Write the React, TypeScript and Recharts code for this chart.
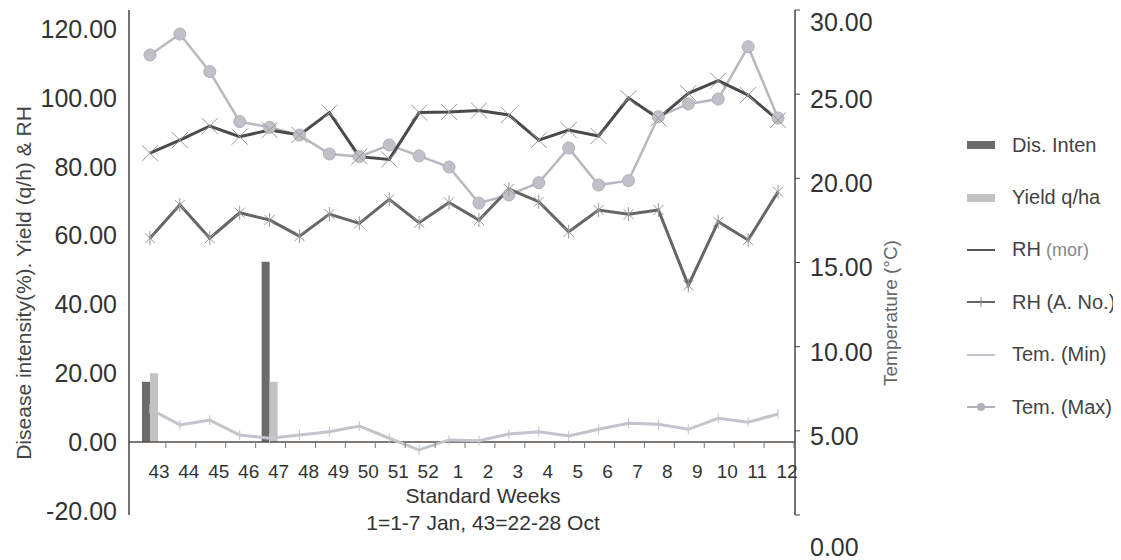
import React from 'react';
import {
  ComposedChart,
  Bar,
  Line,
  XAxis,
  YAxis,
  ReferenceLine,
} from 'recharts';

// ---- data ----
const weeks = ['43', '44', '45', '46', '47', '48', '49', '50', '51', '52', '1', '2', '3', '4', '5', '6', '7', '8', '9', '10', '11', '12'];
const disInten = [17.5, null, null, null, 52.4, null, null, null, null, null, null, null, null, null, null, null, null, null, null, null, null, null];
const yieldQha = [20.0, null, null, null, 17.5, null, null, null, null, null, null, null, null, null, null, null, null, null, null, null, null, null];
const rhMor = [83.9, 87.7, 91.8, 88.7, 90.6, 89.2, 95.7, 82.9, 82.1, 95.7, 95.9, 96.3, 95.0, 87.7, 90.6, 88.9, 99.9, 94.0, 101.3, 105.0, 100.8, 93.5];
const rhANo = [59.2, 68.9, 59.2, 66.6, 64.5, 59.8, 66.2, 63.5, 70.5, 63.7, 69.6, 64.5, 73.5, 69.8, 61.1, 67.4, 66.2, 67.4, 45.5, 64.0, 58.7, 72.7];
const temMin = [6.3, 5.35, 5.64, 4.75, 4.56, 4.75, 4.95, 5.29, 4.56, 3.86, 4.46, 4.41, 4.81, 4.95, 4.69, 5.09, 5.45, 5.39, 5.09, 5.74, 5.51, 6.0];
const temMax = [27.33, 28.57, 26.34, 23.37, 23.03, 22.57, 21.45, 21.29, 21.98, 21.33, 20.67, 18.53, 19.01, 19.74, 21.8, 19.6, 19.86, 23.66, 24.42, 24.71, 27.82, 23.58];

const leftTicks = [-20, 0, 20, 40, 60, 80, 100, 120];
const rightTicks = [0, 5, 10, 15, 20, 25, 30];

const data = weeks.map((w, i) => ({
  week: w,
  disInten: disInten[i],
  yieldQha: yieldQha[i],
  rhMor: rhMor[i],
  rhANo: rhANo[i],
  temMin: temMin[i],
  temMax: temMax[i],
}));

const FONT = '"Liberation Sans", Arial, sans-serif';

const XTick = (props: any) => {
  const { x, y, payload } = props;
  const half = payload && payload.offset ? payload.offset : 15;
  return (
    <g>
      <line x1={x + half + 1} x2={x + half + 1} y1={y - 73} y2={y - 67} stroke="#777" strokeWidth={1} />
      <text x={x + 9} y={y - 37} textAnchor="middle" fontSize={19} fill="#333" fontFamily={FONT}>
        {payload.value}
      </text>
    </g>
  );
};

const RightTick = (props: any) => {
  const { x, y, payload } = props;
  const extra = payload.value === 0 ? 32 : 5;
  return (
    <text x={x} y={y + extra} dy="0.355em" textAnchor="start" fontSize={25} fill="#333" fontFamily={FONT}>
      {Number(payload.value).toFixed(2)}
    </text>
  );
};

const XLabel = (props: any) => {
  const vb = props.viewBox || { x: 121, y: 507, width: 666, height: 45 };
  const cx = vb.x + vb.width / 2 + 21;
  return (
    <g>
      <text x={cx} y={vb.y - 12} textAnchor="middle" fontSize={21} fill="#333" fontFamily={FONT}>
        Standard Weeks
      </text>
      <text x={cx} y={vb.y + 15} textAnchor="middle" fontSize={21} fill="#333" fontFamily={FONT}>
        1=1-7 Jan, 43=22-28 Oct
      </text>
    </g>
  );
};

const LeftTitle = (props: any) => {
  const vb = props.viewBox || { x: 0, y: 2, width: 121, height: 505 };
  const cx = vb.x + 15;
  const cy = vb.y + 273;
  return (
    <text
      x={cx}
      y={cy}
      transform={`rotate(-90 ${cx} ${cy})`}
      textAnchor="middle"
      dominantBaseline="central"
      fontSize={21}
      fill="#444"
      fontFamily={FONT}
    >
      Disease intensity(%). Yield (q/h) &amp; RH
    </text>
  );
};

const RightTitle = (props: any) => {
  const vb = props.viewBox || { x: 787, y: 2, width: 100, height: 505 };
  const cx = vb.x + 95;
  const cy = vb.y + 303;
  return (
    <text
      x={cx}
      y={cy}
      transform={`rotate(-90 ${cx} ${cy})`}
      textAnchor="middle"
      dominantBaseline="central"
      fontSize={19}
      fill="#666"
      fontFamily={FONT}
    >
      Temperature (°C)
    </text>
  );
};

const XDot = (props: any) => {
  const { cx, cy, index } = props;
  if (cx == null || cy == null) return <g key={`x-${index}`} />;
  const s = 8;
  return (
    <path
      key={`x-${index}`}
      d={`M${cx - s},${cy - s}L${cx + s},${cy + s}M${cx - s},${cy + s}L${cx + s},${cy - s}`}
      stroke="#999"
      strokeWidth={1}
      fill="none"
    />
  );
};

const StarDot = (props: any) => {
  const { cx, cy, index } = props;
  if (cx == null || cy == null) return <g key={`s-${index}`} />;
  const s = 7;
  const d = 5;
  return (
    <path
      key={`s-${index}`}
      d={`M${cx},${cy - s}L${cx},${cy + s}M${cx - d},${cy - d}L${cx + d},${cy + d}M${cx - d},${cy + d}L${cx + d},${cy - d}`}
      stroke="#999"
      strokeWidth={1}
      fill="none"
    />
  );
};

const TickDot = (props: any) => {
  const { cx, cy, index } = props;
  if (cx == null || cy == null) return <g key={`t-${index}`} />;
  return <path key={`t-${index}`} d={`M${cx},${cy - 5}L${cx},${cy + 5}`} stroke="#c4c4cc" strokeWidth={1} />;
};

const legendItems = [
  { name: 'Dis. Inten', kind: 'bar', color: '#6b6b6b' },
  { name: 'Yield q/ha', kind: 'bar', color: '#c2c2c2' },
  { name: 'RH', sub: ' (mor)', kind: 'line', color: '#555555' },
  { name: 'RH (A. No.)', kind: 'plus', color: '#666666' },
  { name: 'Tem. (Min)', kind: 'line', color: '#c4c4cc' },
  { name: 'Tem. (Max)', kind: 'circle', color: '#b0b0b8' },
];

const Legendary = () => (
  <div style={{ position: 'absolute', left: 959, top: 111, fontFamily: FONT }}>
    {legendItems.map((it, i) => (
      <div key={i} style={{ display: 'flex', alignItems: 'center', height: 52.4 }}>
        <svg width={28} height={14} style={{ marginRight: 17 }}>
          {it.kind === 'bar' && <rect x={0} y={3} width={28} height={8} fill={it.color} />}
          {it.kind !== 'bar' && <line x1={0} x2={28} y1={7} y2={7} stroke={it.color} strokeWidth={2} />}
          {it.kind === 'plus' && <path d="M14,2L14,12" stroke="#888" strokeWidth={1} />}
          {it.kind === 'circle' && <circle cx={14} cy={7} r={4} fill={it.color} />}
        </svg>
        <span style={{ fontSize: 20, color: '#444', whiteSpace: 'nowrap' }}>
          {it.name}
          {it.sub && <span style={{ fontSize: 18, color: '#888' }}>{it.sub}</span>}
        </span>
      </div>
    ))}
  </div>
);

export default function App() {
  return (
    <div style={{ position: 'relative', width: 1105, height: 552, fontFamily: FONT }}>
      <ComposedChart
        width={1105}
        height={552}
        data={data}
        margin={{ top: 2, right: 218, bottom: 0, left: 0 }}
        barGap={0}
      >
        <XAxis
          dataKey="week"
          height={45}
          padding={{ left: 6, right: 2 }}
          axisLine={false}
          tickLine={false}
          tickSize={0}
          tickMargin={0}
          interval={0}
          tick={<XTick />}
          label={(p: any) => <XLabel {...p} />}
        />
        <YAxis
          yAxisId="left"
          width={121}
          domain={[-21.2, 125.5]}
          ticks={leftTicks}
          allowDataOverflow
          axisLine={{ stroke: '#444', strokeWidth: 1.5 }}
          tickLine={false}
          tickSize={6}
          tickMargin={6}
          tick={{ fontSize: 25, fill: '#333', fontFamily: FONT }}
          tickFormatter={(v: number) => v.toFixed(2)}
          label={(p: any) => <LeftTitle {...p} />}
        />
        <YAxis
          yAxisId="right"
          orientation="right"
          width={100}
          domain={[0, 30]}
          ticks={rightTicks}
          allowDataOverflow
          axisLine={{ stroke: '#444', strokeWidth: 1.5 }}
          tickLine={{ stroke: '#444' }}
          tickSize={5}
          tickMargin={10}
          tick={<RightTick />}
          label={(p: any) => <RightTitle {...p} />}
        />
        <ReferenceLine yAxisId="left" y={0} stroke="#554e48" strokeWidth={1.5} />
        <Bar yAxisId="left" dataKey="disInten" name="Dis. Inten" fill="#6b6b6b" barSize={8} isAnimationActive={false} />
        <Bar yAxisId="left" dataKey="yieldQha" name="Yield q/ha" fill="#c2c2c2" barSize={8} isAnimationActive={false} />
        <Line yAxisId="right" dataKey="temMin" name="Tem. (Min)" stroke="#c4c4cc" strokeWidth={3} dot={(p: any) => <TickDot {...p} />} isAnimationActive={false} />
        <Line yAxisId="right" dataKey="temMax" name="Tem. (Max)" stroke="#b8b8c0" strokeWidth={2.5} dot={{ r: 6, fill: '#c0c0c8', stroke: '#b0b0b8', strokeWidth: 1 }} isAnimationActive={false} />
        <Line yAxisId="left" dataKey="rhANo" name="RH (A. No.)" stroke="#666666" strokeWidth={3} dot={(p: any) => <StarDot {...p} />} isAnimationActive={false} />
        <Line yAxisId="left" dataKey="rhMor" name="RH (mor)" stroke="#4a4a4a" strokeWidth={3} dot={(p: any) => <XDot {...p} />} isAnimationActive={false} />
      </ComposedChart>
      <Legendary />
    </div>
  );
}
